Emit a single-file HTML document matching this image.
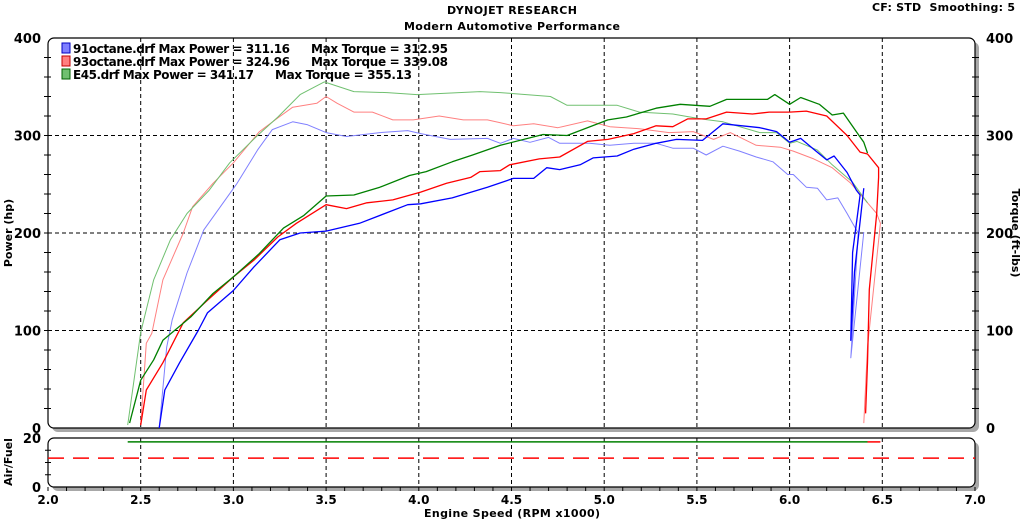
<!DOCTYPE html>
<html><head><meta charset="utf-8"><style>
body{margin:0;background:#fff;}
svg{display:block;font-family:"DejaVu Sans","Liberation Sans",sans-serif;font-weight:bold;}
</style></head><body>
<svg id="c" width="1024" height="520" viewBox="0 0 1024 520">
<text x="512" y="14" text-anchor="middle" font-size="11" textLength="130">DYNOJET RESEARCH</text>
<text x="512" y="30" text-anchor="middle" font-size="11" textLength="216">Modern Automotive Performance</text>
<text x="872" y="11" font-size="11" textLength="143">CF: STD&#160;&#160;Smoothing: 5</text>
<rect x="52" y="42" width="927" height="390" rx="6" fill="#a8a8a8"/>
<rect x="48" y="38" width="927" height="390" rx="6" fill="#fff" stroke="#000" stroke-width="1.2"/>
<rect x="52" y="442" width="927" height="49" rx="6" fill="#a8a8a8"/>
<rect x="48" y="438" width="927" height="49" rx="6" fill="#fff" stroke="#000" stroke-width="1.2"/>
<g id="grid"></g><g id="axes"></g><g id="series"></g>
<text transform="translate(12,233) rotate(-90)" text-anchor="middle" font-size="11">Power (hp)</text>
<text transform="translate(1012,233) rotate(90)" text-anchor="middle" font-size="11">Torque (ft-lbs)</text>
<text transform="translate(12,462) rotate(-90)" text-anchor="middle" font-size="11">Air/Fuel</text>
<text x="512" y="517" text-anchor="middle" font-size="11" textLength="176">Engine Speed (RPM x1000)</text>
<g font-size="12">
<rect x="62" y="43" width="8" height="10" fill="#7f7fff" stroke="#0000c0"/>
<text x="73" y="53" textLength="217">91octane.drf Max Power = 311.16</text>
<text x="311" y="53" textLength="137">Max Torque = 312.95</text>
<rect x="62" y="56" width="8" height="10" fill="#ff7f7f" stroke="#c00000"/>
<text x="73" y="66" textLength="217">93octane.drf Max Power = 324.96</text>
<text x="311" y="66" textLength="137">Max Torque = 339.08</text>
<rect x="62" y="69" width="8" height="10" fill="#70c070" stroke="#006000"/>
<text x="73" y="79" textLength="181">E45.drf Max Power = 341.17</text>
<text x="275" y="79" textLength="137">Max Torque = 355.13</text>
</g>
</svg>
<script>
const xTicks=["2.0","2.5","3.0","3.5","4.0","4.5","5.0","5.5","6.0","6.5","7.0"];
const yTicks=[0,100,200,300,400];
const rpm91P=[2.60,2.63,2.71,2.81,2.86,3.00,3.11,3.25,3.36,3.50,3.68,3.94,4.01,4.18,4.37,4.51,4.62,4.69,4.76,4.87,4.94,5.07,5.16,5.28,5.39,5.53,5.64,5.84,5.93,6.00,6.06,6.13,6.20,6.24,6.31,6.36,6.38,6.34,6.33,6.35,6.40];
const hp91P=[0,39,67,100,118,141,165,193,200,202,210,229,230,236,247,256,256,267,265,270,277,279,286,292,296,295,312,308,304,293,297,286,275,279,262,244,239,180,90,160,246];
const rpm91T=[2.60,2.64,2.67,2.75,2.84,2.93,3.02,3.13,3.21,3.32,3.40,3.50,3.61,3.79,3.94,4.01,4.17,4.37,4.44,4.51,4.60,4.70,4.76,4.92,5.03,5.16,5.28,5.37,5.48,5.55,5.64,5.73,5.82,5.91,5.99,6.02,6.09,6.15,6.20,6.26,6.31,6.34,6.37,6.33,6.40];
const tq91T=[0,83,111,159,203,227,251,285,306,314,311,303,299,303,305,302,296,297,292,297,293,298,292,292,290,292,292,287,287,280,289,284,278,273,260,260,247,246,234,236,220,210,200,72,201];
const rpm93P=[2.50,2.53,2.62,2.73,2.86,3.00,3.11,3.24,3.34,3.50,3.61,3.72,3.86,4.01,4.15,4.28,4.33,4.44,4.49,4.65,4.76,4.91,5.02,5.16,5.28,5.37,5.45,5.55,5.66,5.80,5.89,6.00,6.09,6.20,6.31,6.38,6.42,6.48,6.48,6.47,6.43,6.42,6.41];
const hp93P=[3,39,67,108,131,155,172,196,210,229,225,231,234,242,251,257,263,264,270,276,278,294,296,302,310,309,317,317,324,322,324,324,325,320,300,283,281,267,257,220,142,67,15];
const rpm93T=[2.50,2.53,2.56,2.62,2.73,2.78,2.89,3.00,3.14,3.24,3.32,3.45,3.50,3.56,3.65,3.75,3.86,3.97,4.11,4.24,4.37,4.44,4.51,4.62,4.75,4.91,5.03,5.19,5.35,5.48,5.59,5.68,5.82,5.95,6.02,6.13,6.23,6.33,6.42,6.47,6.49,6.42,6.40];
const tq93T=[3,87,97,152,200,227,251,272,304,318,329,333,340,333,324,324,316,316,320,316,316,313,310,312,308,315,309,307,303,304,296,303,290,288,284,276,267,251,231,220,210,83,5];
const rpmE45P=[2.44,2.50,2.57,2.62,2.77,2.89,3.00,3.14,3.27,3.38,3.50,3.65,3.79,3.95,4.04,4.18,4.29,4.44,4.67,4.80,5.02,5.12,5.28,5.41,5.57,5.66,5.88,5.92,6.00,6.06,6.16,6.23,6.29,6.36,6.40,6.42];
const hpE45P=[5,49,70,90,114,138,155,179,205,218,238,239,247,259,263,273,280,290,301,300,316,319,328,332,330,337,337,342,332,339,332,321,323,304,293,282];
const rpmE45T=[2.43,2.50,2.57,2.66,2.75,2.87,2.98,3.13,3.24,3.36,3.49,3.65,3.83,3.99,4.33,4.44,4.51,4.71,4.80,5.07,5.19,5.37,5.52,5.64,5.84,5.93,6.00,6.04,6.15,6.23,6.34,6.42];
const tqE45T=[3,98,152,193,220,244,272,300,319,342,355,345,344,342,345,344,343,340,331,331,324,322,317,314,303,303,292,294,285,270,252,231];
const afrRpm=[2.43,6.42];
const afrE45=[18.4,18.4];
const afrRed=[18.4,18.4];
const afrTarget=11.8;

const NS="http://www.w3.org/2000/svg";
const X0=48,X1=975,Y0=428,Y1=38,AY0=487,AY1=438;
const sx=v=>X0+(v-2)/5*(X1-X0);
const sy=v=>Y0-v/400*(Y0-Y1);
const sa=v=>AY0-v/20*(AY0-AY1);
function mk(tag,attrs,parent){const e=document.createElementNS(NS,tag);for(const k in attrs)e.setAttribute(k,attrs[k]);parent.appendChild(e);return e;}
const grid=document.getElementById('grid'),axes=document.getElementById('axes'),ser=document.getElementById('series');
xTicks.forEach((t,i)=>{
  const v=parseFloat(t),x=sx(v);
  if(i>0&&i<xTicks.length-1){
    const g1=mk('line',{x1:x,x2:x,y1:Y1,y2:Y0,stroke:'#000','stroke-dasharray':'4,3','stroke-width':1},grid);
    
    
    const g2=mk('line',{x1:x,x2:x,y1:AY1,y2:AY0,stroke:'#000','stroke-dasharray':'4,3','stroke-width':1},grid);
    
    
  }
  const tx=mk('text',{x:x,y:504,'text-anchor':'middle','font-size':12},axes);
  tx.textContent=t;
  
  
});
for(let v=2.0;v<=7.0001;v+=0.1){
  const x=sx(v);
  const tk=mk('line',{x1:x,x2:x,y1:AY0,y2:AY0+4,stroke:'#000'},axes);
  
  
}
yTicks.forEach(v=>{
  const y=sy(v);
  if(v>0&&v<400){
    const g=mk('line',{x1:X0,x2:X1,y1:y,y2:y,stroke:'#000','stroke-dasharray':'4,3'},grid);
    
    
  }
  const l=mk('text',{x:41,y:y+5,'text-anchor':'end','font-size':13},axes);
  l.textContent=v;
  
  
  const r=mk('text',{x:986,y:y+5,'text-anchor':'start','font-size':13},axes);
  r.textContent=v;
  
  
});
for(let v=20;v<400;v+=20){
  const y=sy(v);
  const a=mk('line',{x1:X0-4,x2:X0+3,y1:y,y2:y,stroke:'#000'},axes);
  
  
  const b=mk('line',{x1:X1-3,x2:X1+4,y1:y,y2:y,stroke:'#000'},axes);
  
  
}
[5,10,15].forEach(v=>{
  const t=mk('line',{x1:X0-3,x2:X0+3,y1:sa(v),y2:sa(v),stroke:'#000'},axes);
  
  
});
[[20,'20'],[0,'0']].forEach(([v,t])=>{
  const l=mk('text',{x:41,y:sa(v)+5,'text-anchor':'end','font-size':13},axes);
  l.textContent=t;
  
  
});
function line(xs,ys,col,w,name,fy){
  const d=xs.map((v,i)=>(i?'L':'M')+sx(v).toFixed(1)+','+fy(ys[i]).toFixed(1)).join('');
  const p=mk('path',{d:d,fill:'none',stroke:col,'stroke-width':w,'stroke-linejoin':'round'},ser);
  
  
}
line(rpm91T,tq91T,'#8080ff',1,'torque-91octane',sy);
line(rpm93T,tq93T,'#ff8080',1,'torque-93octane',sy);
line(rpmE45T,tqE45T,'#70c070',1,'torque-e45',sy);
line(rpm91P,hp91P,'#0000ff',1.3,'power-91octane',sy);
line(rpm93P,hp93P,'#ff0000',1.3,'power-93octane',sy);
line(rpmE45P,hpE45P,'#008000',1.3,'power-e45',sy);
line(afrRpm,afrE45,'#008000',1.5,'afr-e45',sa);
line([afrRpm[1],6.49],afrRed,'#ff0000',1.5,'afr-93octane',sa);
const tl=mk('line',{x1:X0,x2:X1,y1:sa(afrTarget),y2:sa(afrTarget),stroke:'#ff0000','stroke-width':1.5,'stroke-dasharray':'16,9'},ser);


</script>
</body></html>
